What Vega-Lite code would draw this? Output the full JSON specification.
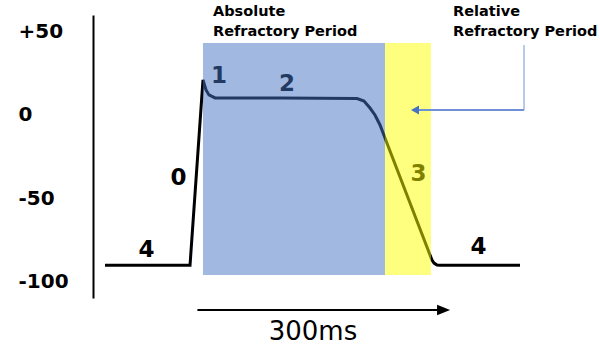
{
  "$schema": "https://vega.github.io/schema/vega-lite/v6.json",
  "width": 507,
  "height": 283,
  "autosize": {"type": "none"},
  "padding": {"left": 93, "top": 15, "right": 0, "bottom": 47},
  "background": "white",
  "config": {"view": {"stroke": null}},
  "datasets": {
    "curve": [
      {"t": -109.75, "v": -90.5},
      {"t": -8.8, "v": -90.5},
      {"t": 6.6, "v": 21.1},
      {"t": 10.2, "v": 15.1},
      {"t": 13.7, "v": 12.1},
      {"t": 20.9, "v": 10.3},
      {"t": 100, "v": 10.2},
      {"t": 189.5, "v": 9.9},
      {"t": 197.8, "v": 8.4},
      {"t": 204.9, "v": 4.2},
      {"t": 210.8, "v": 0},
      {"t": 216.8, "v": -6.0},
      {"t": 222.7, "v": -13.9},
      {"t": 278.5, "v": -87.4},
      {"t": 280.9, "v": -89.2},
      {"t": 284.5, "v": -90.4},
      {"t": 288.0, "v": -90.5},
      {"t": 383.0, "v": -90.5}
    ],
    "phases": [
      {"t": 25.6, "v": 19.3, "label": "1"},
      {"t": 106.4, "v": 14.5, "label": "2"},
      {"t": -22.5, "v": -42.2, "label": "0"},
      {"t": -60.5, "v": -85.5, "label": "4"},
      {"t": 262.5, "v": -39.8, "label": "3"},
      {"t": 333.7, "v": -83.7, "label": "4"}
    ],
    "periods": [
      {"period": "Absolute", "t": 6.6, "t2": 222.7, "v": 43.4, "v2": -96.4},
      {"period": "Relative", "t": 222.7, "t2": 277.3, "v": 43.4, "v2": -96.4}
    ],
    "notes": [
      {"t": 18.5, "v": 59.6, "text": "Absolute"},
      {"t": 18.5, "v": 47.6, "text": "Refractory Period"},
      {"t": 303.5, "v": 59.6, "text": "Relative"},
      {"t": 303.5, "v": 47.6, "text": "Refractory Period"}
    ],
    "pointerV": [{"t": 387.8, "v": 42.2, "v2": 3.0}],
    "pointerH": [{"t": 257.0, "t2": 387.8, "v": 3.0}],
    "pointerHead": [{"t": 253.6, "v": 3.0}],
    "timeLine": [{"t": 0, "t2": 292, "v": -117.5}],
    "timeHead": [{"t": 300, "v": -117.5}],
    "timeLabel": [{"t": 137.2, "v": -135.5, "text": "300ms"}]
  },
  "encoding": {
    "x": {"field": "t", "type": "quantitative", "scale": {"domain": [-124, 478], "nice": false, "zero": false}, "axis": null},
    "y": {
      "field": "v", "type": "quantitative",
      "scale": {"domain": [-110.24, 60.24], "nice": false, "zero": false},
      "axis": {
        "title": null, "values": [-100, -50, 0, 50], "grid": false,
        "ticks": false, "tickSize": 0, "domainColor": "#000000", "domainWidth": 2,
        "labelAlign": "left", "labelBaseline": "middle", "labelPadding": 75,
        "labelFont": "DejaVu Sans", "labelFontWeight": "bold", "labelFontSize": 20,
        "labelColor": "#000000", "labelOverlap": false, "labelBound": false,
        "labelExpr": "datum.value > 0 ? '+' + datum.value : '' + datum.value"
      }
    }
  },
  "layer": [
    {
      "data": {"name": "curve"},
      "mark": {"type": "line", "color": "#000000", "strokeWidth": 3}
    },
    {
      "data": {"name": "phases"},
      "mark": {"type": "text", "font": "DejaVu Sans", "fontWeight": "bold", "fontSize": 23, "align": "center", "baseline": "alphabetic", "color": "#000000"},
      "encoding": {"text": {"field": "label"}}
    },
    {
      "data": {"name": "periods"},
      "mark": {"type": "rect", "opacity": 0.5},
      "encoding": {
        "x2": {"field": "t2"},
        "y2": {"field": "v2"},
        "color": {"field": "period", "type": "nominal", "scale": {"domain": ["Absolute", "Relative"], "range": ["#4472c4", "#ffff00"]}, "legend": null}
      }
    },
    {
      "data": {"name": "notes"},
      "mark": {"type": "text", "font": "DejaVu Sans", "fontWeight": "bold", "fontSize": 14.5, "align": "left", "baseline": "alphabetic", "color": "#000000"},
      "encoding": {"text": {"field": "text"}}
    },
    {
      "data": {"name": "pointerV"},
      "mark": {"type": "rule", "color": "#a3b8e6", "strokeWidth": 1.5},
      "encoding": {"y2": {"field": "v2"}}
    },
    {
      "data": {"name": "pointerH"},
      "mark": {"type": "rule", "color": "#6f8fd6", "strokeWidth": 1.8},
      "encoding": {"x2": {"field": "t2"}}
    },
    {
      "data": {"name": "pointerHead"},
      "mark": {"type": "point", "shape": "M0,0L1,-0.55L1,0.55Z", "size": 256, "filled": true, "opacity": 1, "color": "#4472c4"}
    },
    {
      "data": {"name": "timeLine"},
      "mark": {"type": "rule", "color": "#000000", "strokeWidth": 2},
      "encoding": {"x2": {"field": "t2"}}
    },
    {
      "data": {"name": "timeHead"},
      "mark": {"type": "point", "shape": "M0,0L-1,-0.4L-1,0.4Z", "size": 676, "filled": true, "opacity": 1, "color": "#000000"}
    },
    {
      "data": {"name": "timeLabel"},
      "mark": {"type": "text", "font": "DejaVu Sans", "fontSize": 26, "align": "center", "baseline": "alphabetic", "color": "#000000"},
      "encoding": {"text": {"field": "text"}}
    }
  ]
}
